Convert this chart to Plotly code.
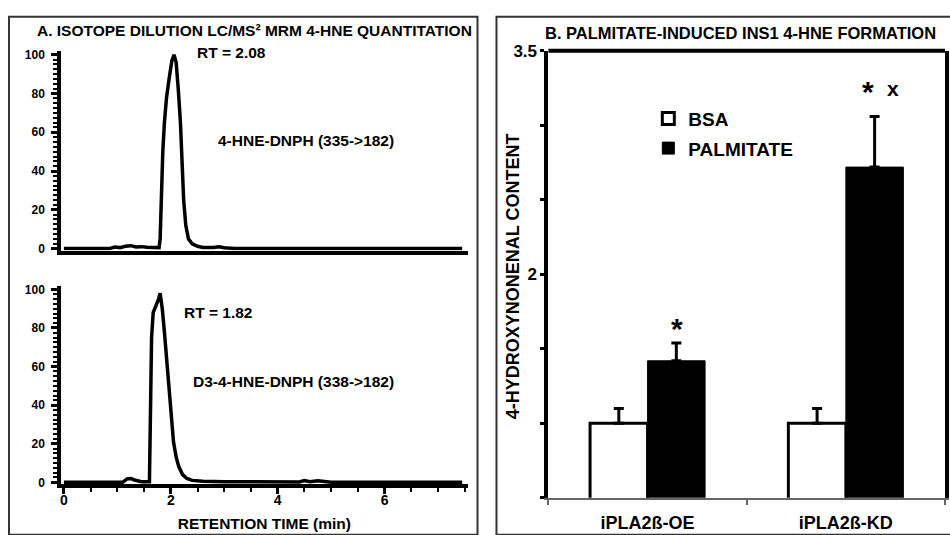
import plotly.graph_objects as go

W, H = 950, 535

# ---- Panel A data: chromatograms (time in min, relative intensity %) ----
hne_time = [0.0, 0.85, 0.95, 1.05, 1.15, 1.25, 1.35, 1.45, 1.55, 1.65, 1.75, 1.78, 1.80, 1.82,
            1.85, 1.88, 1.92, 1.97, 2.02, 2.06, 2.10, 2.14, 2.18, 2.21, 2.24, 2.28, 2.33,
            2.40, 2.50, 2.60, 2.80, 2.90, 3.00, 3.20, 7.45]
hne_int = [0.0, 0.0, 0.8, 0.5, 1.2, 1.5, 0.8, 1.0, 0.7, 0.6, 0.3, 0.5, 5, 25,
           50, 65, 78, 88, 97, 100, 96, 82, 65, 45, 25, 12, 5,
           2.5, 1.2, 0.6, 0.5, 0.9, 0.4, 0.0, 0.0]

d3_time = [0.0, 1.10, 1.18, 1.25, 1.32, 1.45, 1.60, 1.62, 1.64, 1.67, 1.72, 1.77, 1.80,
           1.84, 1.88, 1.93, 1.99, 2.05, 2.10, 2.15, 2.22, 2.30, 2.40, 2.60, 3.00,
           4.40, 4.50, 4.60, 4.75, 4.85, 5.00, 7.45]
d3_int = [0.0, 0.0, 1.8, 2.0, 1.2, 0.3, 0.3, 30, 75, 88, 91, 95, 98,
          90, 78, 61, 36, 21, 13, 8, 4, 2, 1, 0.5, 0.3,
          0.2, 0.9, 0.3, 0.8, 0.3, 0.0, 0.0]

y_ticks_a = [0, 20, 40, 60, 80, 100]
x_ticks_a = [0, 2, 4, 6]

# ---- Panel B data ----
groups = ["iPLA2ß-OE", "iPLA2ß-KD"]
bsa_vals = [1.0, 1.0]
bsa_err = [0.1, 0.1]
palm_vals = [1.42, 2.72]
palm_err = [0.12, 0.34]
star_marks = ["*", "*"]
x_marks = ["", "x"]
y_ticks_b = [0.5, 1, 1.5, 2, 2.5, 3, 3.5]
y_ticktext_b = ["", "", "", "2", "", "", "3.5"]

FONT = "Liberation Sans, Arial, sans-serif"


def px_x(p):
    return p / W


def px_y(p):
    return 1 - p / H


def b(s):
    return f"<b>{s}</b>" if s != "" else ""


fig = go.Figure()

fig.add_trace(go.Scatter(x=hne_time, y=hne_int, mode="lines", xaxis="x", yaxis="y",
                         line=dict(color="black", width=3.5), showlegend=False))
fig.add_trace(go.Scatter(x=d3_time, y=d3_int, mode="lines", xaxis="x2", yaxis="y2",
                         line=dict(color="black", width=3.5), showlegend=False))

fig.add_trace(go.Bar(name="BSA", x=groups, y=bsa_vals, xaxis="x3", yaxis="y3",
                     marker=dict(color="white", line=dict(color="black", width=3)),
                     error_y=dict(type="data", array=bsa_err, arrayminus=[0, 0], symmetric=False,
                                  color="black", thickness=3, width=5),
                     legendgroup="a"))
fig.add_trace(go.Bar(name="PALMITATE", x=groups, y=palm_vals, xaxis="x3", yaxis="y3",
                     marker=dict(color="black", line=dict(color="black", width=1)),
                     error_y=dict(type="data", array=palm_err, arrayminus=[0, 0], symmetric=False,
                                  color="black", thickness=3, width=5),
                     legendgroup="b"))

bold = dict(family=FONT, color="black", weight="bold")

chrom_x = dict(domain=[px_x(60.3), px_x(467)], range=[-0.05, 7.55], showline=True,
               linecolor="black", linewidth=4, showgrid=False, zeroline=False)
chrom_y = dict(range=[-1, 102], showline=True, linecolor="black", linewidth=4,
               showgrid=False, zeroline=False, ticks="outside", tickvals=y_ticks_a,
               ticktext=[b(v) for v in y_ticks_a], ticklabelstandoff=4,
               ticklen=6, tickwidth=3, tickcolor="black",
               minor=dict(dtick=2.5, ticks="outside", ticklen=4, tickwidth=2, tickcolor="black"),
               tickfont=dict(size=12, **bold))

fig.update_layout(
    width=W, height=H, margin=dict(l=0, r=0, t=0, b=0),
    paper_bgcolor="white", plot_bgcolor="white",
    font=dict(family=FONT, color="black"),
    barmode="group", bargap=0.42, bargroupgap=0,
    xaxis=dict(anchor="y", showticklabels=False, ticks="", **chrom_x),
    yaxis=dict(anchor="x", domain=[px_y(248), px_y(43)], **chrom_y),
    xaxis2=dict(anchor="y2", ticks="outside", tickvals=x_ticks_a,
                ticktext=[b(v) for v in x_ticks_a], ticklen=6, tickwidth=3,
                tickcolor="black", ticklabelstandoff=-6,
                minor=dict(dtick=0.5, ticks="outside", ticklen=4, tickwidth=2, tickcolor="black"),
                tickfont=dict(size=14, **bold),
                title=dict(text="RETENTION TIME (min)", font=dict(size=15.5, **bold), standoff=12),
                **chrom_x),
    yaxis2=dict(anchor="x2", domain=[px_y(488), px_y(284)], **chrom_y),
    xaxis3=dict(anchor="y3", domain=[px_x(548), px_x(945)], type="category",
                showline=True, linecolor="#666", linewidth=2, ticks="outside",
                tickson="boundaries", ticklen=5, tickwidth=2, tickcolor="#666",
                showgrid=False, tickfont=dict(size=18, **bold), ticklabelstandoff=8),
    yaxis3=dict(anchor="x3", domain=[px_y(502), px_y(43)], range=[0.5, 3.5],
                showline=True, linecolor="black", linewidth=4, mirror=True,
                showgrid=False, zeroline=False, ticks="outside", ticklen=4, tickwidth=3,
                tickcolor="black", tickvals=y_ticks_b,
                ticktext=[b(t) for t in y_ticktext_b], tickfont=dict(size=17, **bold)),
    legend=dict(x=px_x(648), y=px_y(93), xanchor="left", yanchor="top",
                bgcolor="rgba(0,0,0,0)", font=dict(size=19, **bold),
                traceorder="grouped", tracegroupgap=2, itemwidth=30),
)

shapes = [
    # panel frames
    dict(type="rect", xref="paper", yref="paper", x0=px_x(8), x1=px_x(477), y0=px_y(540),
         y1=px_y(8), line=dict(color="#333", width=2)),
    dict(type="rect", xref="paper", yref="paper", x0=px_x(496), x1=px_x(956), y0=px_y(540),
         y1=px_y(8), line=dict(color="#333", width=2)),
    # top frame line of panel B plot
    dict(type="line", xref="x3 domain", yref="y3 domain", x0=0, x1=1, y0=1, y1=1,
         line=dict(color="black", width=4)),
]
fig.update_layout(shapes=shapes)

ann = [
    dict(text="A. ISOTOPE DILUTION LC/MS² MRM 4-HNE QUANTITATION", x=px_x(254), y=px_y(22),
         font=dict(size=15.5, **bold)),
    dict(text="B. PALMITATE-INDUCED INS1 4-HNE FORMATION", x=px_x(740), y=px_y(25),
         font=dict(size=16.5, **bold)),
    dict(text="RT = 2.08", x=px_x(231), y=px_y(45), font=dict(size=15.5, **bold)),
    dict(text="4-HNE-DNPH (335->182)", x=px_x(305), y=px_y(135), font=dict(size=15.5, **bold)),
    dict(text="RT = 1.82", x=px_x(218), y=px_y(312), font=dict(size=15.5, **bold)),
    dict(text="D3-4-HNE-DNPH (338->182)", x=px_x(293), y=px_y(383), font=dict(size=15.5, **bold)),
    dict(text="4-HYDROXYNONENAL CONTENT", x=px_x(512), y=px_y(274), textangle=-90,
         font=dict(size=18, **bold)),
]
for a in ann:
    a.update(xref="paper", yref="paper", showarrow=False, xanchor="center", yanchor="middle")

for i, (g, v, e) in enumerate(zip(groups, palm_vals, palm_err)):
    sx = 0 if i == 0 else -7
    sy = -4 if i == 0 else 6
    ann.append(dict(text=star_marks[i], x=g, y=v + e, xref="x3", yref="y3", xshift=29 + sx,
                    yshift=sy, yanchor="bottom", showarrow=False, font=dict(size=30, **bold)))
    if x_marks[i]:
        ann.append(dict(text=x_marks[i], x=g, y=v + e, xref="x3", yref="y3", xshift=29 + 18,
                        yshift=14, yanchor="bottom", showarrow=False, font=dict(size=21, **bold)))

fig.update_layout(annotations=ann)

fig.write_html("out.html", config={"displayModeBar": False},
               post_script="document.body.style.margin='0';")
